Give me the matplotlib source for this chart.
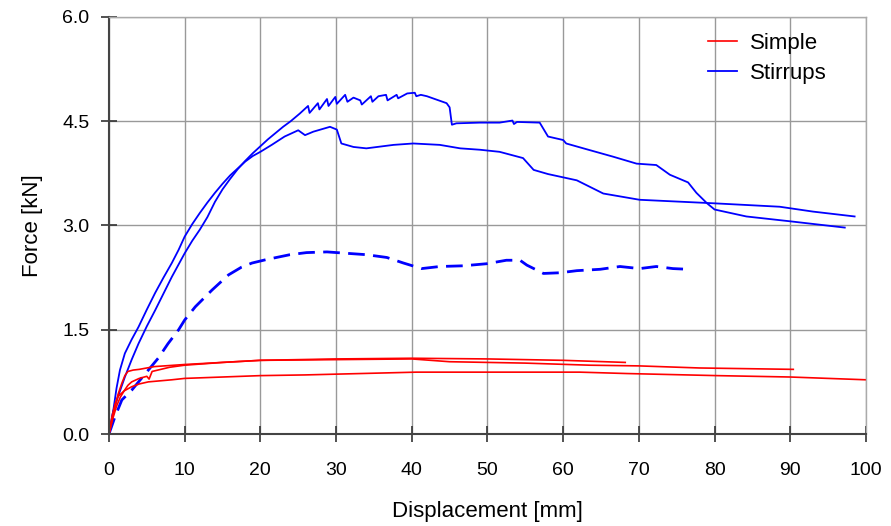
import matplotlib
matplotlib.use("Agg")
import matplotlib.pyplot as plt

plt.rcParams['font.family'] = ['Liberation Sans', 'DejaVu Sans']

# Stirrups, test 1 (jagged plateau, higher peak)
st1_x = [0, 0.5, 1.2, 2.1, 3.0, 3.9, 5.0, 6.1, 7.2, 8.3, 9.2, 10.0, 11.0, 12.0, 13.0, 14.0,
         15.0, 16.0, 17.0, 18.0, 19.0, 20.0, 21.0, 22.0, 23.0, 24.0, 25.2,
         26.3, 26.5, 27.6, 27.8, 28.8, 29.0, 29.9, 30.1, 31.2, 31.5, 32.3, 33.2, 33.4,
         34.6, 34.8, 35.6, 36.6, 36.8, 38.0, 38.2, 39.4, 40.4, 40.6, 41.2, 42.0, 43.3, 44.6,
         45.0, 45.3, 45.9, 49.0, 51.6, 53.3, 53.5, 53.9, 56.9, 58.0, 60.0, 60.4, 63.0, 66.6,
         69.7, 72.3, 74.1, 76.5, 77.6, 79.0, 80.0, 84.2, 90.0, 97.2]
st1_y = [0, 0.30, 0.54, 0.82, 1.07, 1.30, 1.55, 1.78, 2.02, 2.26, 2.44, 2.60, 2.78, 2.94,
         3.12, 3.34, 3.52, 3.67, 3.81, 3.93, 4.04, 4.14, 4.24, 4.33, 4.42, 4.50, 4.61,
         4.72, 4.62, 4.76, 4.67, 4.82, 4.72, 4.85, 4.75, 4.88, 4.78, 4.84, 4.80, 4.74,
         4.86, 4.78, 4.86, 4.88, 4.80, 4.88, 4.83, 4.90, 4.91, 4.86, 4.88, 4.86, 4.81, 4.76,
         4.70, 4.45, 4.47, 4.48, 4.48, 4.51, 4.46, 4.49, 4.48, 4.28, 4.23, 4.18, 4.10, 3.99,
         3.89, 3.87, 3.73, 3.62, 3.47, 3.32, 3.23, 3.13, 3.06, 2.97]

# Stirrups, test 2 (stiffer start, lower peak)
st2_x = [0, 0.3, 0.6, 1.0, 1.45, 2.1, 3.0, 3.9, 5.0, 6.1, 7.2, 8.3, 9.2, 10.0, 11.0, 12.0,
         13.0, 14.0, 15.0, 16.0, 17.0, 18.0, 19.0, 20.0, 21.5, 23.2, 25.0, 25.9, 27.0, 29.2,
         30.1, 30.7, 32.3, 34.0, 37.6, 40.2, 43.7, 46.4, 49.0, 51.6, 54.7, 56.1, 58.0, 61.8,
         65.3, 70.1, 79.8, 88.6, 93.0, 98.5]
st2_y = [0, 0.15, 0.36, 0.66, 0.92, 1.16, 1.36, 1.54, 1.79, 2.03, 2.25, 2.46, 2.65, 2.84,
         3.02, 3.18, 3.33, 3.47, 3.60, 3.72, 3.82, 3.92, 4.00, 4.06, 4.16, 4.28, 4.37, 4.30,
         4.35, 4.42, 4.38, 4.18, 4.13, 4.11, 4.16, 4.18, 4.16, 4.11, 4.09, 4.06, 3.97, 3.80,
         3.74, 3.65, 3.46, 3.37, 3.32, 3.27, 3.20, 3.13]

# Stirrups, test 3 (dashed)
st3_x = [0, 0.8, 1.7, 3.0, 5.2, 6.5, 7.8, 9.2, 10.0, 11.4, 13.6, 15.8, 17.5, 18.9, 20.8,
         23.9, 26.1, 28.8, 31.4, 34.0, 36.7, 38.9, 41.3, 43.7, 46.8, 49.9, 52.5, 54.3, 55.2,
         57.4, 59.6, 61.8, 64.9, 67.5, 70.1, 72.3, 74.5, 76.5]
st3_y = [0, 0.25, 0.49, 0.63, 0.92, 1.09, 1.30, 1.50, 1.64, 1.83, 2.07, 2.29, 2.40, 2.46, 2.51,
         2.58, 2.61, 2.62, 2.60, 2.58, 2.54, 2.46, 2.38, 2.41, 2.42, 2.45, 2.50, 2.50, 2.43,
         2.31, 2.32, 2.35, 2.37, 2.41, 2.38, 2.41, 2.38, 2.37]

# Simple, three tests
sa_x = [0, 0.4, 0.8, 1.2, 1.7, 2.1, 2.5, 3.2, 4.0, 6.0, 10.0, 20.0, 30.0, 40.0, 50.0, 60.0, 68.2]
sa_y = [0, 0.20, 0.39, 0.57, 0.73, 0.84, 0.90, 0.92, 0.93, 0.97, 1.00, 1.06, 1.08, 1.09, 1.08,
        1.06, 1.03]

sb_x = [0, 0.5, 1.0, 1.5, 2.0, 2.5, 3.0, 4.0, 5.0, 5.3, 5.7, 8.0, 10.0, 15.0, 20.0, 30.0, 40.0,
        45.0, 55.0, 63.5, 70.0, 78.0, 90.4]
sb_y = [0, 0.22, 0.40, 0.53, 0.62, 0.70, 0.75, 0.80, 0.83, 0.79, 0.90, 0.96, 0.99, 1.03, 1.06,
        1.07, 1.08, 1.04, 1.02, 0.99, 0.98, 0.95, 0.93]

sc_x = [0, 0.4, 0.8, 1.2, 2.0, 3.0, 4.0, 5.2, 8.3, 10.0, 20.0, 25.9, 40.6, 62.2, 68.4, 80.3,
        90.0, 100.0]
sc_y = [0, 0.25, 0.43, 0.54, 0.62, 0.68, 0.72, 0.75, 0.78, 0.80, 0.84, 0.85, 0.89, 0.89, 0.87,
        0.84, 0.82, 0.78]

x_ticks = list(range(0, 101, 10))
y_ticks = [0.0, 1.5, 3.0, 4.5, 6.0]

fig = plt.figure(figsize=(8.91, 5.26), dpi=100)
ax = fig.add_axes([0.1223, 0.1749, 0.8496, 0.7928])

blue = '#0000ff'
red = '#ff0000'
ax.plot(st1_x, st1_y, color=blue, lw=1.3, label='Stirrups')
ax.plot(st2_x, st2_y, color=blue, lw=1.3)
ax.plot(st3_x, st3_y, color=blue, lw=2.0, dashes=(6, 3))
ax.plot(sa_x, sa_y, color=red, lw=1.2, label='Simple')
ax.plot(sb_x, sb_y, color=red, lw=1.2)
ax.plot(sc_x, sc_y, color=red, lw=1.2)

ax.set_xlim(0, 100)
ax.set_ylim(0, 6)
ax.set_xticks(x_ticks)
ax.set_yticks(y_ticks)
ax.set_yticklabels([f'{v:.1f}' for v in y_ticks])
ax.grid(True, color='#999999', lw=1)
ax.set_axisbelow(True)

ax.tick_params(direction='inout', length=12, width=1.2, color='#333333', labelsize=14)
ax.tick_params(axis='x', pad=14)
ax.tick_params(axis='y', pad=8)
for s in ['top', 'right']:
    ax.spines[s].set_color('#aaaaaa')
    ax.spines[s].set_linewidth(1)
for s in ['left', 'bottom']:
    ax.spines[s].set_color('#444444')
    ax.spines[s].set_linewidth(1.5)

ax.set_xlabel('Displacement [mm]', fontsize=16, labelpad=16)
ax.set_ylabel('Force [kN]', fontsize=16, labelpad=14)

h, l = ax.get_legend_handles_labels()
ax.legend([h[1], h[0]], [l[1], l[0]], loc='upper right', frameon=False, fontsize=16,
          handlelength=1.3, handletextpad=0.6, labelspacing=0.4,
          bbox_to_anchor=(0.975, 1.01))

fig.savefig('out.png', dpi=100)
